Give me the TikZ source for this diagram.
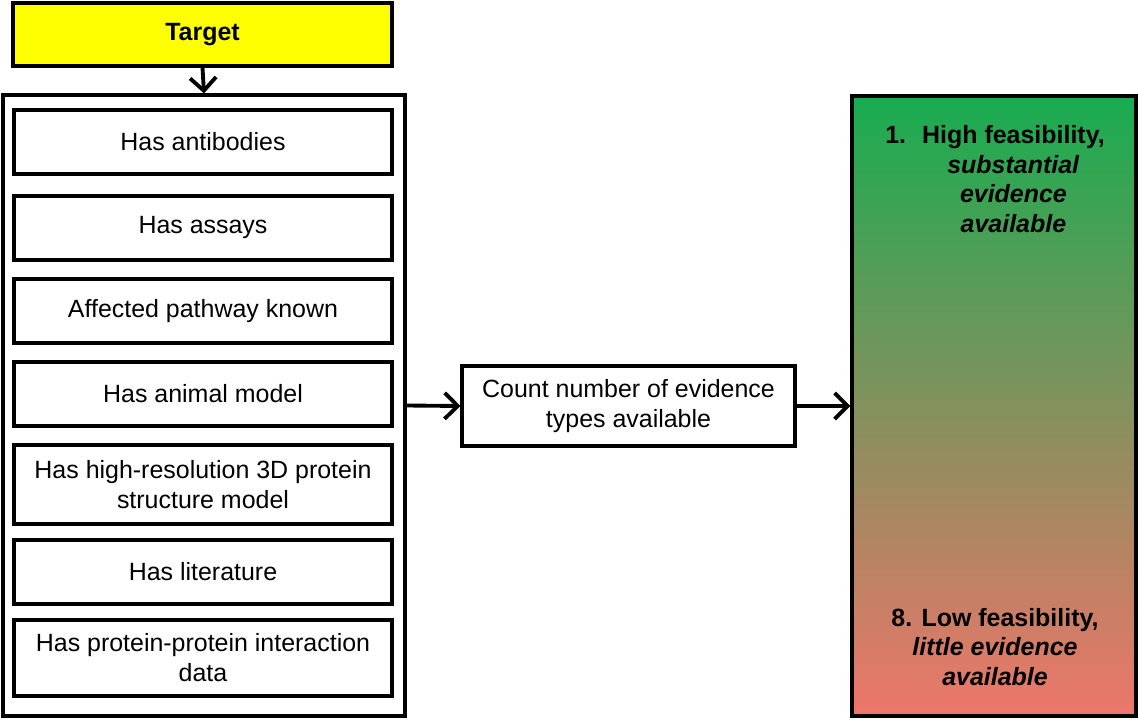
\documentclass[tikz,border=0pt]{standalone}
\usepackage{fontspec}
\setmainfont{Liberation Sans}
\usetikzlibrary{arrows.meta,positioning}
\definecolor{TargetYellow}{RGB}{255,255,0}
\definecolor{FeasHigh}{RGB}{24,172,80}
\definecolor{FeasMid}{RGB}{168,155,92}
\definecolor{FeasLow}{RGB}{238,118,106}

\begin{document}
\begin{tikzpicture}[
  box/.style={draw,line width=0.9pt,align=center,inner sep=1pt},
  link/.style={line width=1.1pt,-{Straight Barb[length=1.3mm,width=2.6mm]}},
  font=\fontsize{7.1}{8.5}\selectfont]
  \useasboundingbox (0,0) rectangle (11.38,-7.19);
  % target on top, evidence checks stacked below
  \node[box,fill=TargetYellow,font=\fontsize{7.1}{8.5}\selectfont\bfseries,
        minimum width=3.79cm,minimum height=0.63cm] (target) at (2.025,-0.345) {Target};
  \node[box,minimum width=4.02cm,minimum height=6.21cm] (evidence) at (2.04,-4.055) {};
  \foreach \n/\y/\h/\txt in {antibody/1.42/0.64/{Has antibodies},
      assay/2.28/0.64/{Has assays},
      pathway/3.11/0.64/{Affected pathway known},
      animal/3.94/0.64/{Has animal model},
      structure/4.845/0.79/{Has high-resolution 3D protein\\structure model},
      literature/5.72/0.64/{Has literature},
      ppi/6.58/0.76/{Has protein-protein interaction\\data}}{
    \node[box,minimum width=3.78cm,minimum height=\h cm] (\n) at (2.03,-\y) {\txt};
  }
  % counting step and the feasibility ranking
  \node[box,minimum width=3.33cm,minimum height=0.80cm] (count) at (6.285,-4.06)
       {Count number of evidence\\types available};
  \node[box,top color=FeasHigh,middle color=FeasMid,bottom color=FeasLow,
        minimum width=2.84cm,minimum height=6.20cm] (rank) at (9.94,-4.06) {};
  \node[font=\fontsize{7.1}{8.5}\selectfont\bfseries] (hightext) at (9.95,-1.82)
       {\begin{tabular}{@{}l@{\hspace{0.16cm}}c@{}}
          1. & High feasibility,\\
             & \textit{substantial}\\
             & \textit{evidence}\\
             & \textit{available}
        \end{tabular}};
  \node[font=\fontsize{7.1}{8.5}\selectfont\bfseries,align=center] (lowtext) at (9.95,-6.47)
       {8. Low feasibility,\\\textit{little} \textit{evidence}\\\textit{available}};
  \draw[link] (target.south) -- (evidence.north);
  \draw[link] (evidence.east) -- (count.west);
  \draw[link] (count.east) -- (rank.west);
\end{tikzpicture}
\end{document}
